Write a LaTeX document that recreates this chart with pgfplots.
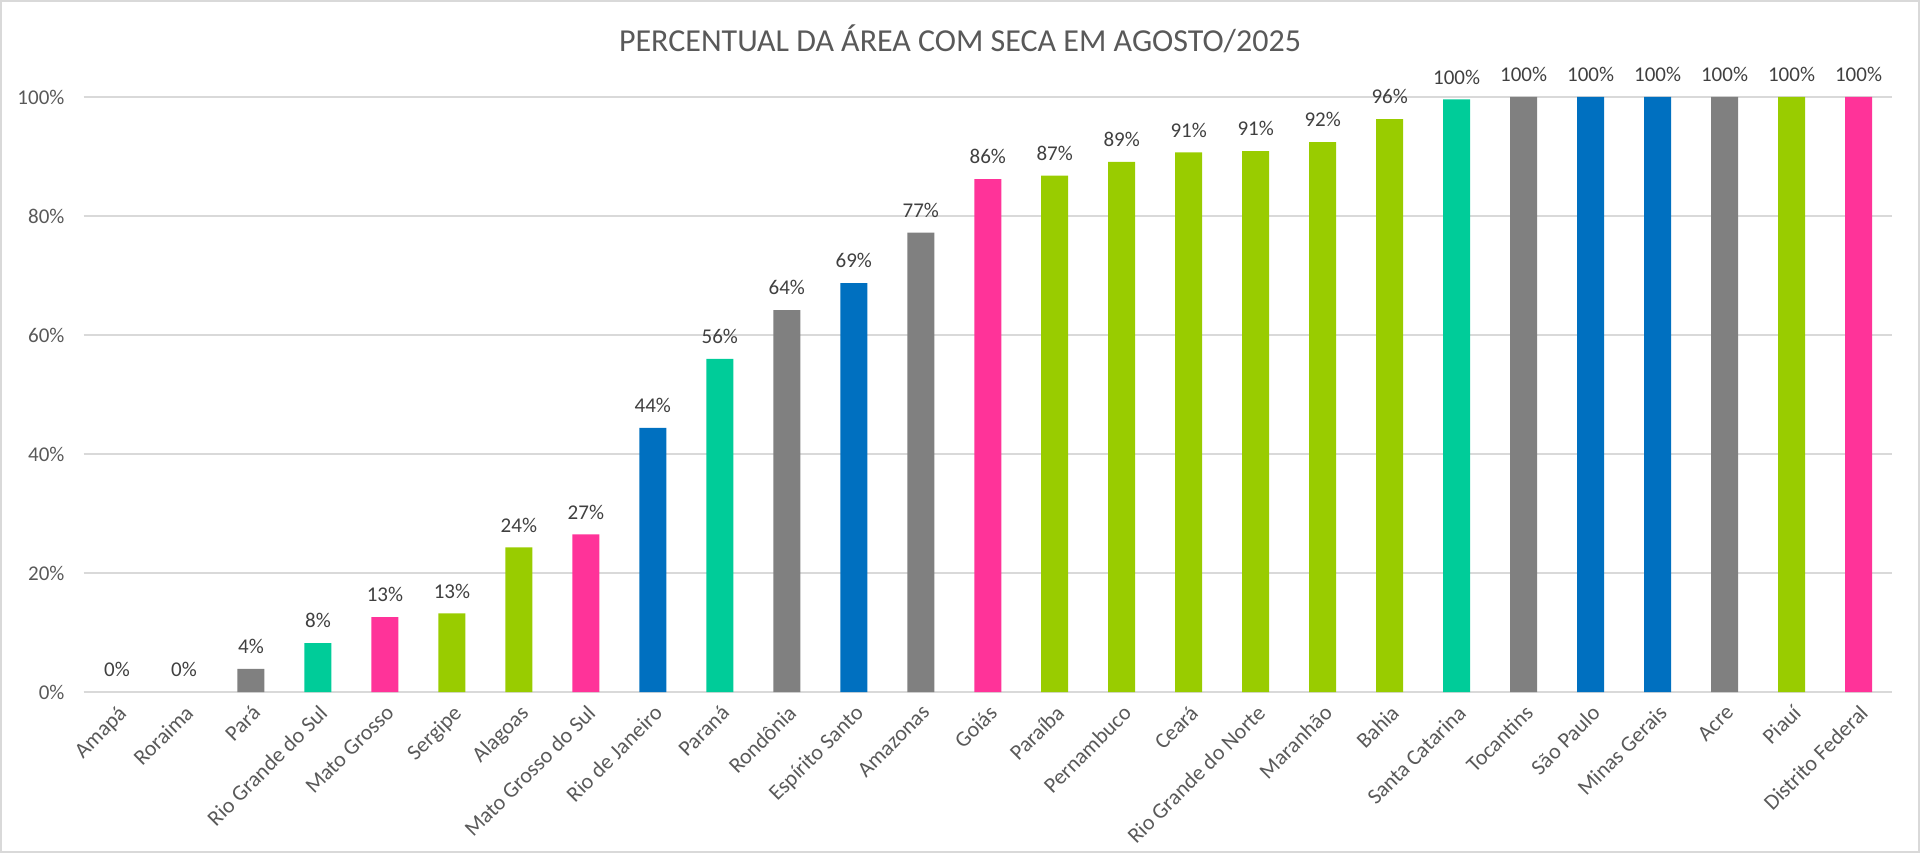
\documentclass[border=0pt]{standalone}
\usepackage{pgfplots}
\pgfplotsset{compat=1.18}
\usepackage{fontspec}
\setmainfont{Carlito}
\definecolor{cgray}{HTML}{808080}
\definecolor{cteal}{HTML}{00CC99}
\definecolor{cpink}{HTML}{FF3399}
\definecolor{clime}{HTML}{99CC00}
\definecolor{cblue}{HTML}{0070C0}
\definecolor{txt}{HTML}{595959}
\definecolor{lbl}{HTML}{404040}
\definecolor{grd}{HTML}{D9D9D9}
\begin{document}
\begin{tikzpicture}
\draw[grd, line width=1pt] (0.5pt,0.5pt) rectangle (959.5pt,426pt);
\node[text=txt, font=\fontsize{16}{19}\selectfont] at (480pt,407pt) {PERCENTUAL DA ÁREA COM SECA EM AGOSTO/2025};
\begin{axis}[
  at={(41.75pt,80.5pt)}, anchor=south west,
  scale only axis, width=904.25pt, height=297.5pt,
  xmin=-0.5, xmax=26.5, ymin=0, ymax=100,
  ybar, bar width=13.5pt, bar shift=0pt,
  axis lines*=left,
  y axis line style={draw=none},
  x axis line style={grd, line width=1pt},
  tick style={draw=none},
  ymajorgrids, grid style={grd, line width=0.6pt},
  xtick={0,...,26},
  xticklabels={Amapá,Roraima,Pará,Rio Grande do Sul,Mato Grosso,Sergipe,Alagoas,Mato Grosso do Sul,Rio de Janeiro,Paraná,Rondônia,Espírito Santo,Amazonas,Goiás,Paraíba,Pernambuco,Ceará,Rio Grande do Norte,Maranhão,Bahia,Santa Catarina,Tocantins,São Paulo,Minas Gerais,Acre,Piauí,Distrito Federal},
  x tick label style={rotate=45, anchor=north east, font=\fontsize{11}{13}\selectfont, text=txt, inner sep=1pt},
  ytick={0,20,...,100},
  yticklabel={\pgfmathprintnumber[assume math mode=true]{\tick}\%},
  y tick label style={font=\fontsize{10.5}{12}\selectfont, text=txt, xshift=-6pt},
  nodes near coords={\pgfmathprintnumber[fixed,precision=0,assume math mode=true]{\pgfplotspointmeta}\%},
  every node near coord/.append style={font=\fontsize{10.5}{12}\selectfont, text=lbl, yshift=4pt},
]
\addplot[draw=none, fill=none] coordinates {(0,0) (1,0)};
\addplot[draw=none, fill=cgray] coordinates {(2,3.9) (10,64.2) (12,77.2) (21,100) (24,100)};
\addplot[draw=none, fill=cteal] coordinates {(3,8.2) (9,56.0) (20,99.6)};
\addplot[draw=none, fill=cpink] coordinates {(4,12.6) (7,26.5) (13,86.2) (26,100)};
\addplot[draw=none, fill=clime] coordinates {(5,13.2) (6,24.3) (14,86.8) (15,89.1) (16,90.7) (17,90.9) (18,92.4) (19,96.3) (25,100)};
\addplot[draw=none, fill=cblue] coordinates {(8,44.4) (11,68.7) (22,100) (23,100)};
\end{axis}
\end{tikzpicture}
\end{document}
